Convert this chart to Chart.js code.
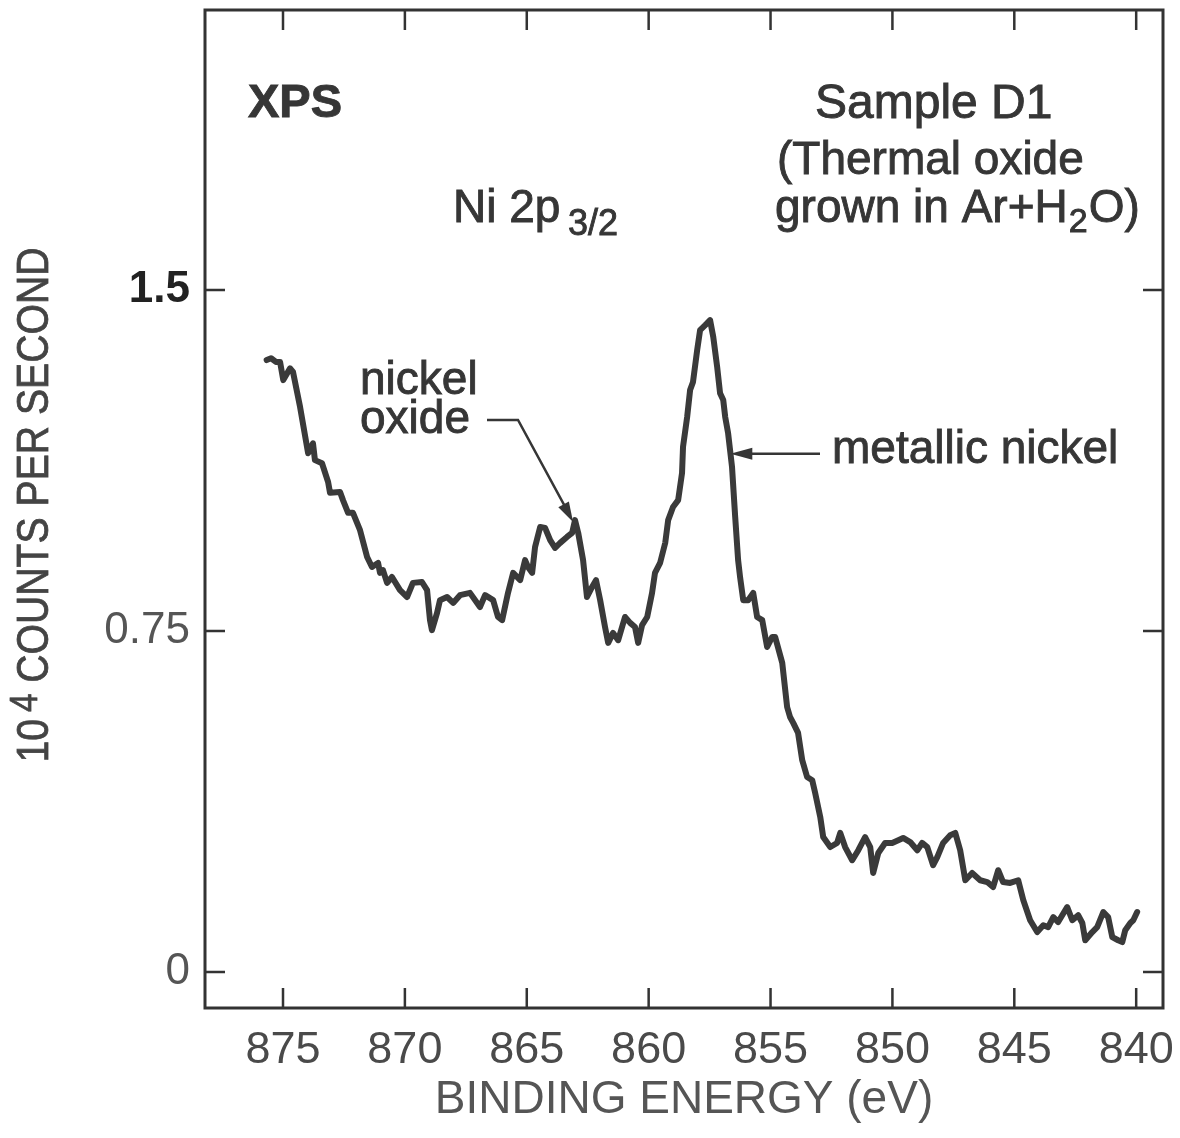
<!DOCTYPE html>
<html>
<head>
<meta charset="utf-8">
<script src="https://cdn.jsdelivr.net/npm/chart.js@4.4.1/dist/chart.umd.min.js"></script>
<style>
html,body{margin:0;padding:0;background:#fff;}
canvas{display:block;}
</style>
</head>
<body>
<canvas id="c" width="1180" height="1138"></canvas>
<script>
// Binding energy (eV) of each sample of the Ni 2p3/2 spectrum
const energy = [875.67,875.49,875.29,875.12,874.99,874.71,874.59,874.30,873.97,873.77,873.69,873.40,873.15,873.07,872.66,872.54,872.33,872.13,871.84,871.55,871.35,871.10,871.02,870.90,870.73,870.53,870.20,869.91,869.67,869.30,869.09,868.97,868.89,868.68,868.56,868.27,868.02,867.74,867.33,866.92,866.71,866.38,866.18,866.01,865.77,865.56,865.27,865.07,864.95,864.78,864.66,864.45,864.25,864.04,863.84,863.63,863.35,863.14,863.02,862.89,862.69,862.53,862.32,862.16,861.99,861.79,861.66,861.46,861.25,860.97,860.76,860.56,860.43,860.27,860.06,859.86,859.74,859.53,859.32,859.20,859.00,858.79,858.63,858.59,858.42,858.30,858.18,858.01,857.89,857.68,857.48,857.35,857.19,857.07,856.94,856.86,856.74,856.66,856.58,856.45,856.33,856.25,856.12,855.92,855.71,855.55,855.34,855.14,854.93,854.81,854.52,854.32,854.20,854.07,853.87,853.70,853.50,853.29,853.17,852.96,852.84,852.55,852.27,852.14,851.94,851.65,851.40,851.12,850.91,850.79,850.58,850.30,850.01,849.76,849.56,849.27,848.98,848.78,848.57,848.33,848.16,847.92,847.63,847.42,847.22,847.01,846.73,846.40,846.11,845.87,845.66,845.46,845.17,844.84,844.63,844.35,844.06,843.81,843.61,843.40,843.20,842.83,842.62,842.38,842.21,842.09,841.80,841.60,841.35,841.15,840.98,840.74,840.57,840.45,840.24,840.12,839.96];
// Intensity in 10^4 counts per second
const counts = [1.346,1.350,1.342,1.342,1.302,1.328,1.320,1.243,1.141,1.163,1.126,1.119,1.078,1.054,1.056,1.038,1.010,1.010,0.972,0.913,0.891,0.900,0.878,0.884,0.856,0.869,0.840,0.825,0.856,0.858,0.840,0.774,0.752,0.790,0.818,0.825,0.812,0.829,0.834,0.803,0.829,0.818,0.781,0.774,0.834,0.878,0.862,0.906,0.891,0.878,0.935,0.979,0.977,0.950,0.933,0.944,0.957,0.966,0.994,0.966,0.906,0.825,0.847,0.862,0.818,0.759,0.724,0.746,0.730,0.781,0.768,0.759,0.724,0.763,0.781,0.834,0.878,0.900,0.944,0.994,1.023,1.038,1.098,1.155,1.221,1.280,1.298,1.368,1.412,1.423,1.434,1.397,1.331,1.273,1.258,1.221,1.185,1.148,1.111,1.001,0.906,0.869,0.818,0.818,0.834,0.781,0.774,0.715,0.737,0.737,0.680,0.583,0.561,0.548,0.526,0.466,0.429,0.422,0.394,0.341,0.297,0.275,0.284,0.306,0.275,0.246,0.268,0.297,0.275,0.218,0.262,0.284,0.284,0.290,0.295,0.286,0.268,0.284,0.275,0.235,0.253,0.284,0.301,0.306,0.268,0.202,0.218,0.202,0.198,0.187,0.224,0.198,0.196,0.202,0.158,0.114,0.088,0.103,0.099,0.121,0.110,0.143,0.114,0.125,0.108,0.070,0.088,0.099,0.132,0.121,0.077,0.070,0.066,0.092,0.108,0.114,0.132];
const xTicks = [875,870,865,860,855,850,845,840];
const yTicks = [0,0.75,1.5];
const yTickLabels = ['0','0.75','1.5'];

const points = energy.map((e,i)=>({x:e,y:counts[i]}));
const INK = '#363636';
const FONT = "'Liberation Sans', Arial, Helvetica, sans-serif";

function arrowHead(ctx, tx, ty, fx, fy, len, half){
  const ang = Math.atan2(ty-fy, tx-fx);
  ctx.beginPath();
  ctx.moveTo(tx,ty);
  ctx.lineTo(tx - len*Math.cos(ang) + half*Math.sin(ang), ty - len*Math.sin(ang) - half*Math.cos(ang));
  ctx.lineTo(tx - len*Math.cos(ang) - half*Math.sin(ang), ty - len*Math.sin(ang) + half*Math.cos(ang));
  ctx.closePath();
  ctx.fill();
}
function txt(ctx, s, x, y){
  ctx.fillText(s, x, y);
  ctx.strokeText(s, x, y);
}

const framePlugin = {
  id:'frame',
  afterDatasetsDraw(chart){
    const {ctx, chartArea:a, scales:{x,y}} = chart;
    ctx.save();
    ctx.strokeStyle = '#333';
    ctx.lineWidth = 3;
    ctx.strokeRect(a.left, a.top, a.right-a.left, a.bottom-a.top);
    ctx.lineWidth = 2.5;
    ctx.beginPath();
    x.ticks.forEach(t=>{
      const px = x.getPixelForValue(t.value);
      ctx.moveTo(px,a.bottom); ctx.lineTo(px,a.bottom-20);
      ctx.moveTo(px,a.top); ctx.lineTo(px,a.top+20);
    });
    y.ticks.forEach(t=>{
      const py = y.getPixelForValue(t.value);
      ctx.moveTo(a.left,py); ctx.lineTo(a.left+20,py);
      ctx.moveTo(a.right,py); ctx.lineTo(a.right-20,py);
    });
    ctx.stroke();

    // annotations
    ctx.fillStyle = INK;
    ctx.strokeStyle = INK;
    ctx.lineWidth = 0.9;
    ctx.textBaseline = 'alphabetic';
    ctx.textAlign = 'left';
    ctx.font = 'bold 47px ' + FONT;
    txt(ctx, 'XPS', 248, 117);
    ctx.font = '48px ' + FONT;
    txt(ctx, 'Sample D1', 815, 118);
    ctx.font = '46px ' + FONT;
    txt(ctx, '(Thermal oxide', 777, 174);
    let s1 = 'grown in Ar+H';
    txt(ctx, s1, 775, 222);
    let w1 = ctx.measureText(s1).width;
    ctx.font = '34px ' + FONT;
    txt(ctx, '2', 775 + w1 + 1, 232);
    let w2 = ctx.measureText('2').width;
    ctx.font = '46px ' + FONT;
    txt(ctx, 'O)', 775 + w1 + w2 + 2, 222);

    txt(ctx, 'Ni 2p', 453, 222);
    ctx.font = '36px ' + FONT;
    txt(ctx, '3/2', 568, 235);

    ctx.font = '46px ' + FONT;
    txt(ctx, 'nickel', 360, 394);
    txt(ctx, 'oxide', 360, 433);
    txt(ctx, 'metallic nickel', 832, 463);

    // leader lines
    ctx.lineWidth = 2.5;
    const oxTipX = x.getPixelForValue(863.1), oxTipY = y.getPixelForValue(0.99);
    ctx.beginPath();
    ctx.moveTo(487,420); ctx.lineTo(518,420); ctx.lineTo(oxTipX-3, oxTipY-6);
    ctx.stroke();
    arrowHead(ctx, oxTipX, oxTipY, 518, 420, 20, 6);
    const mnTipX = x.getPixelForValue(856.65), mnTipY = y.getPixelForValue(1.14);
    ctx.beginPath();
    ctx.moveTo(820, mnTipY); ctx.lineTo(mnTipX+15, mnTipY);
    ctx.stroke();
    arrowHead(ctx, mnTipX, mnTipY, 820, mnTipY, 22, 6);

    // y axis title with superscript
    ctx.save();
    ctx.translate(48, 505);
    ctx.rotate(-Math.PI/2);
    ctx.fillStyle = '#444';
    ctx.strokeStyle = '#444';
    ctx.lineWidth = 0.8;
    const big = '45px ' + FONT, small = '38px ' + FONT;
    const parts = [['10',big,0,0],['4',small,-11,8],[' COUNTS PER SECOND',big,0,0]];
    let total = 0;
    parts.forEach(p=>{ctx.font=p[1]; total += ctx.measureText(p[0]).width + p[3];});
    const target = 515;
    ctx.scale(target/total, 1);
    let cx = -total/2;
    parts.forEach(p=>{
      ctx.font = p[1];
      cx += p[3];
      txt(ctx, p[0], cx, p[2]);
      cx += ctx.measureText(p[0]).width;
    });
    ctx.restore();
    ctx.restore();
  }
};

new Chart(document.getElementById('c'), {
  type:'line',
  data:{datasets:[{
    data: points,
    borderColor:'#3a3a3a',
    borderWidth:6,
    pointRadius:0,
    tension:0,
    fill:false,
    borderJoinStyle:'round',
    borderCapStyle:'round'
  }]},
  options:{
    responsive:false,
    animation:false,
    devicePixelRatio:1,
    layout:{padding:{top:10,right:17,left:0,bottom:0}},
    plugins:{legend:{display:false},tooltip:{enabled:false},title:{display:false}},
    scales:{
      x:{
        type:'linear',
        reverse:true,
        min:838.9,
        max:878.2,
        afterBuildTicks(s){ s.ticks = xTicks.map(v=>({value:v})); },
        afterFit(s){ s.height = 130; s.paddingLeft = 0; s.paddingRight = 0; },
        grid:{display:false,drawTicks:false},
        border:{display:false},
        ticks:{
          autoSkip:false,
          maxRotation:0,
          padding:16,
          color:'#4a4a4a',
          font:{family:FONT,size:45},
          callback:(v)=>String(v)
        },
        title:{
          display:true,
          text:'BINDING ENERGY (eV)',
          color:'#555',
          font:{family:FONT,size:46},
          padding:{top:0,bottom:10}
        }
      },
      y:{
        type:'linear',
        min:-0.079,
        max:2.116,
        afterBuildTicks(s){ s.ticks = yTicks.map(v=>({value:v})); },
        afterFit(s){ s.width = 205; s.paddingTop = 0; s.paddingBottom = 0; },
        grid:{display:false,drawTicks:false},
        border:{display:false},
        ticks:{
          autoSkip:false,
          padding:15,
          color:(c)=> c.tick && c.tick.value===1.5 ? '#222' : '#555',
          font:(c)=>({family:FONT,size:44,weight: c.tick && c.tick.value===1.5 ? 'bold':'normal'}),
          callback:(v)=>{const i=yTicks.indexOf(v); return i>=0?yTickLabels[i]:'';}
        },
        title:{display:false}
      }
    }
  },
  plugins:[framePlugin]
});
</script>
</body>
</html>
